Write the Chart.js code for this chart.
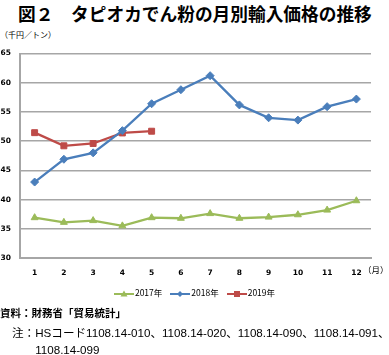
<!DOCTYPE html>
<html><head><meta charset="utf-8">
<script src="https://cdn.jsdelivr.net/npm/chart.js@4"></script>
<style>
html,body{margin:0;padding:0;background:#fff;}
body{width:389px;height:355px;position:relative;overflow:hidden;font-family:"Noto Sans CJK JP","DejaVu Sans",sans-serif;color:#000;}
#title{position:absolute;left:18px;top:2px;font-size:17.7px;font-weight:bold;white-space:nowrap;line-height:22px;}
#unit{position:absolute;left:0px;top:30px;font-size:8px;white-space:nowrap;line-height:10px;}
#wrap{position:absolute;left:0;top:40px;width:389px;height:240px;}
#month{position:absolute;left:363px;top:264px;font-size:8.5px;white-space:nowrap;line-height:11px;}
#legend{position:absolute;left:0;top:286px;width:389px;text-align:center;font-size:8.5px;line-height:12px;white-space:nowrap;}
.li{display:inline-block;margin:0 4px;}
.li canvas{vertical-align:middle;margin-right:1px;}
#src{position:absolute;left:0;top:305px;font-size:10.5px;font-weight:bold;white-space:nowrap;line-height:16px;}
#note{position:absolute;left:12px;top:324px;font-size:11.6px;white-space:nowrap;line-height:17px;font-family:"Liberation Sans","Noto Sans CJK JP",sans-serif;}
#note .j{font-family:"Noto Sans CJK JP",sans-serif;}
</style></head><body>
<div id="title">図２　タピオカでん粉の月別輸入価格の推移</div>
<div id="unit">（千円／トン）</div>
<div id="wrap"><canvas id="c"></canvas></div>
<div id="month">（月）</div>
<div id="legend"></div>
<div id="src">資料：財務省「貿易統計」</div>
<div id="note"><span class="j">注：</span>HS<span class="j">コード</span>1108.14-010<span class="j">、</span>1108.14-020<span class="j">、</span>1108.14-090<span class="j">、</span>1108.14-091<span class="j">、</span><br><span class="j">　　</span>1108.14-099</div>
<script>
const months = ["1","2","3","4","5","6","7","8","9","10","11","12"];
const seriesNames = ["2017年","2018年","2019年"];
const v2017 = [36.9,36.1,36.4,35.5,36.9,36.8,37.6,36.8,37.0,37.4,38.2,39.8];
const v2018 = [43.0,46.9,48.0,51.8,56.4,58.8,61.2,56.2,54.0,53.6,55.9,57.2];
const v2019 = [51.45,49.2,49.6,51.4,51.7,null,null,null,null,null,null,null];
const yTicks = [30,35,40,45,50,55,60,65];

const colors = ["#9BBB59","#4A7EBB","#BE4B48"];
const styles = ["triangle","rectRot","rect"];
const radii = [4,4,4.2];
const values = [v2017,v2018,v2019];

const datasets = seriesNames.map((n,i)=>({
  label:n, data:values[i], borderColor:colors[i], backgroundColor:colors[i],
  borderWidth:2.3, pointStyle:styles[i], pointRadius:radii[i], pointBorderWidth:1,
  pointBackgroundColor:colors[i], pointBorderColor:colors[i], tension:0, spanGaps:false
}));

const grid = "#A6A6A6";
const tickFont = {family:"DejaVu Sans",size:7.5,weight:"bold"};
new Chart(document.getElementById('c'),{
  type:'line',
  data:{labels:months,datasets:datasets},
  options:{
    responsive:true, maintainAspectRatio:false, animation:false,
    layout:{padding:{top:12,right:18,left:0,bottom:0}},
    plugins:{legend:{display:false},tooltip:{enabled:false}},
    scales:{
      x:{offset:true,
         grid:{display:false},
         border:{display:true,color:grid,width:2},
         ticks:{color:"#000",font:tickFont,padding:3,maxRotation:0},
         afterFit:(s)=>{s.height=22;}
      },
      y:{min:30,max:65,
         afterBuildTicks:(s)=>{s.ticks=yTicks.map(v=>({value:v}));},
         grid:{color:grid,lineWidth:1.5,drawTicks:false},
         border:{display:true,color:grid,width:2},
         ticks:{color:"#000",font:tickFont,padding:9},
         afterFit:(s)=>{s.width=20;}
      }
    }
  }
});

// legend built from the same series definitions
const lg = document.getElementById('legend');
seriesNames.forEach((n,i)=>{
  const span=document.createElement('span'); span.className='li';
  const cv=document.createElement('canvas'); cv.width=20; cv.height=10; cv.style.width='20px'; cv.style.height='10px';
  const x=cv.getContext('2d');
  x.strokeStyle=colors[i]; x.fillStyle=colors[i]; x.lineWidth=2;
  x.beginPath(); x.moveTo(0,5); x.lineTo(20,5); x.stroke();
  x.beginPath();
  if(styles[i]==='triangle'){x.moveTo(10,1.5);x.lineTo(13.5,7.5);x.lineTo(6.5,7.5);x.closePath();}
  else if(styles[i]==='rectRot'){x.moveTo(10,2);x.lineTo(13,5);x.lineTo(10,8);x.lineTo(7,5);x.closePath();}
  else {x.rect(7,2,6,6);}
  x.fill();
  span.appendChild(cv);
  span.appendChild(document.createTextNode(n));
  lg.appendChild(span);
});
</script>
</body></html>
